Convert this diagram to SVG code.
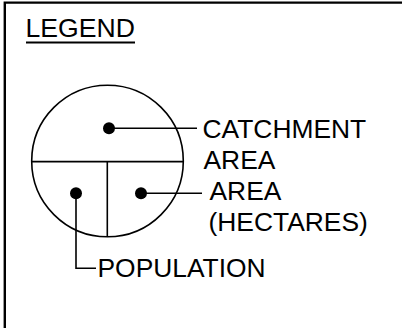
<svg xmlns="http://www.w3.org/2000/svg" width="402" height="328" viewBox="0 0 402 328">
  <style>
    .ln { fill: none; stroke: #000; stroke-width: 1.6; }
    .dot { fill: #000; }
    .lbl { font-family: "Liberation Sans", Arial, sans-serif; font-size: 26.4px; fill: #000; }
  </style>
  <rect width="402" height="328" fill="#fff"/>

  <!-- frame (open on the right and bottom) -->
  <g id="frame">
    <path d="M4.8,330 V2.6 H404" fill="none" stroke="#000" stroke-width="2.4"/>
  </g>

  <g id="title">
    <text class="lbl" x="25.5" y="37" style="font-size:26.6px">LEGEND</text>
    <line x1="26" y1="42.5" x2="135" y2="42.5" stroke="#000" stroke-width="2"/>
  </g>

  <!-- symbol: circle split into three fields -->
  <g id="symbol">
    <circle class="ln" cx="107.5" cy="161" r="75.8"/>
    <line class="ln" x1="31.7" y1="161.6" x2="183.3" y2="161.6"/>
    <line class="ln" x1="107.3" y1="161.6" x2="107.3" y2="236.8"/>
  </g>

  <g id="connectors">
    <circle class="dot" cx="109" cy="128.3" r="6"/>
    <line class="ln" x1="109" y1="128.3" x2="197" y2="128.3"/>
    <circle class="dot" cx="141" cy="193.3" r="6"/>
    <line class="ln" x1="141" y1="193.3" x2="202" y2="193.3"/>
    <circle class="dot" cx="76" cy="193.3" r="6"/>
    <path class="ln" d="M76,193.3 V268.3 H96"/>
  </g>

  <g id="label-catchment">
    <text class="lbl" x="202.5" y="137.5">CATCHMENT</text>
    <text class="lbl" x="203.5" y="169">AREA</text>
  </g>
  <g id="label-area">
    <text class="lbl" x="209.5" y="200">AREA</text>
    <text class="lbl" x="208.5" y="230.5">(HECTARES)</text>
  </g>
  <g id="label-population">
    <text class="lbl" x="97.5" y="276.8">POPULATION</text>
  </g>
</svg>
